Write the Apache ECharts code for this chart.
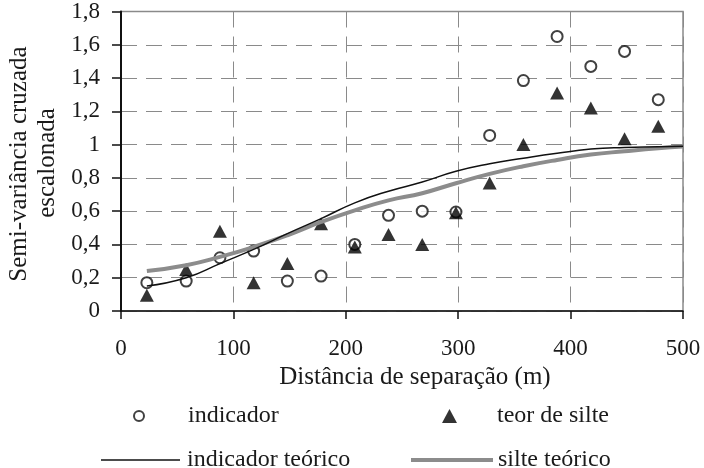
<!DOCTYPE html>
<html>
<head>
<meta charset="utf-8">
<script src="https://cdn.jsdelivr.net/npm/echarts@6/dist/echarts.min.js"></script>
<style>html,body{margin:0;padding:0;background:#fff}#c{width:704px;height:468px}</style>
</head>
<body>
<div id="c"></div>
<script>
const distances = [23, 58, 88, 118, 148, 178, 208, 238, 268, 298, 328, 358, 388, 418, 448, 478];
const indicador = [0.17, 0.18, 0.32, 0.36, 0.18, 0.21, 0.40, 0.575, 0.60, 0.595, 1.055, 1.385, 1.65, 1.47, 1.56, 1.27];
const silte = [0.095, 0.25, 0.48, 0.17, 0.285, 0.525, 0.385, 0.46, 0.40, 0.59, 0.77, 1.0, 1.31, 1.22, 1.035, 1.11];
const curveX = [23, 58, 88, 118, 148, 178, 208, 238, 268, 298, 328, 358, 388, 418, 448, 478, 500];
const indicadorTeorico = [0.15, 0.20, 0.285, 0.37, 0.465, 0.555, 0.65, 0.72, 0.775, 0.84, 0.885, 0.918, 0.948, 0.973, 0.983, 0.987, 0.99];
const silteTeorico = [0.24, 0.275, 0.325, 0.385, 0.455, 0.535, 0.605, 0.665, 0.708, 0.768, 0.824, 0.87, 0.908, 0.94, 0.96, 0.978, 0.988];
const xTicks = [0, 100, 200, 300, 400, 500];
const yTicks = [0, 0.2, 0.4, 0.6, 0.8, 1, 1.2, 1.4, 1.6, 1.8];

const FONT = 'Liberation Serif';
const TXT = '#1a1a1a';
const pair = (xs, ys) => xs.map((x, i) => [x, ys[i]]);
const legendText = (pad) => ({fontFamily: FONT, fontSize: 24, color: TXT, padding: [0, 0, 0, pad]});

const chart = echarts.init(document.getElementById('c'));
chart.setOption({
  animation: false,
  backgroundColor: '#fff',
  grid: {left: 121, right: 21, top: 10, bottom: 157, show: true, borderColor: '#8a8a8a', borderWidth: 1.5, containLabel: false},
  xAxis: {
    type: 'value', min: xTicks[0], max: xTicks[xTicks.length - 1], interval: 100,
    axisLine: {show: true, lineStyle: {color: '#111', width: 1.5}},
    axisTick: {show: true, length: 8, lineStyle: {color: '#111', width: 1.5}},
    axisLabel: {fontFamily: FONT, fontSize: 23, color: TXT, margin: 26},
    splitLine: {show: true, lineStyle: {color: '#8a8a8a', width: 1, type: [16, 9]}}
  },
  yAxis: {
    type: 'value', min: yTicks[0], max: yTicks[yTicks.length - 1], interval: 0.2,
    axisLine: {show: true, lineStyle: {color: '#111', width: 2}},
    axisTick: {show: true, length: 9, lineStyle: {color: '#111', width: 1.5}},
    axisLabel: {fontFamily: FONT, fontSize: 23, color: TXT, margin: 21,
      formatter: v => String(+v.toFixed(1)).replace('.', ',')},
    splitLine: {show: true, lineStyle: {color: '#8a8a8a', width: 1, type: [16, 9]}}
  },
  legend: [
    {data: ['indicador'], left: 133, top: 404, padding: 0, icon: 'circle', itemWidth: 10, itemHeight: 10,
     textStyle: legendText(39), itemStyle: {color: '#fff', borderColor: '#111', borderWidth: 2}},
    {data: ['teor de silte'], left: 442, top: 404, padding: 0, icon: 'triangle', itemWidth: 15, itemHeight: 14,
     textStyle: legendText(35), itemStyle: {color: '#000'}},
    {data: ['indicador teórico'], left: 101, top: 448, padding: 0, icon: 'rect', itemWidth: 79, itemHeight: 1.6,
     textStyle: legendText(2), itemStyle: {color: '#111'}},
    {data: ['silte teórico'], left: 411, top: 448, padding: 0, icon: 'rect', itemWidth: 82, itemHeight: 4,
     textStyle: legendText(0), itemStyle: {color: '#8c8c8c'}}
  ],
  graphic: [
    {type: 'text', x: 415, y: 377, style: {text: 'Distância de separação (m)', font: '25px "Liberation Serif"', fill: TXT, align: 'center', verticalAlign: 'middle'}},
    {type: 'text', x: 19, y: 164, rotation: Math.PI / 2, style: {text: 'Semi-variância cruzada', font: '25px "Liberation Serif"', fill: TXT, align: 'center', verticalAlign: 'middle'}},
    {type: 'text', x: 47, y: 163, rotation: Math.PI / 2, style: {text: 'escalonada', font: '25px "Liberation Serif"', fill: TXT, align: 'center', verticalAlign: 'middle'}}
  ],
  series: [
    {name: 'silte teórico', type: 'line', data: pair(curveX, silteTeorico), smooth: true, symbol: 'none',
     lineStyle: {color: '#8c8c8c', width: 4}, itemStyle: {color: '#8c8c8c'}},
    {name: 'indicador teórico', type: 'line', data: pair(curveX, indicadorTeorico), smooth: true, symbol: 'none',
     lineStyle: {color: '#111', width: 1.5}, itemStyle: {color: '#111'}},
    {name: 'indicador', type: 'scatter', data: pair(distances, indicador), symbol: 'circle', symbolSize: 11,
     itemStyle: {color: '#fff', borderColor: '#111', borderWidth: 2}},
    {name: 'teor de silte', type: 'scatter', data: pair(distances, silte), symbol: 'triangle', symbolSize: [14, 13],
     itemStyle: {color: '#000'}}
  ]
});
</script>
</body>
</html>
